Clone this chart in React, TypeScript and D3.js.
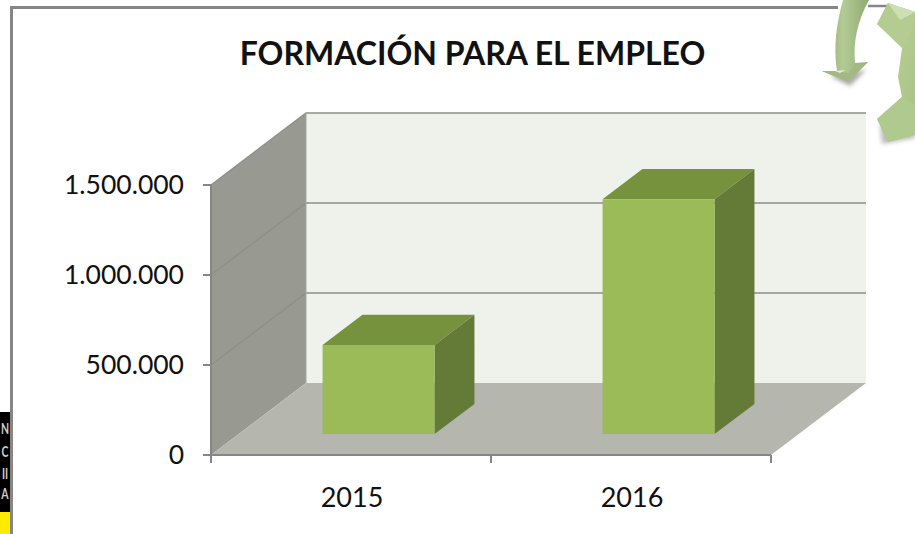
import * as d3 from 'd3'

const YEARS = ['2015', '2016']
const VALUES = [495000, 1305000]
const Y_TICKS = [0, 500000, 1000000, 1500000]
const TITLE = 'FORMACIÓN PARA EL EMPLEO'
const SIDE_LETTERS = ['N', 'C', 'II', 'A']
const SIDE_BASELINES = [434, 457, 479, 499]

const FONT = 'Lato, "Open Sans", sans-serif'

// depth of the 3D box
const DX = 95
const DY = -72
const BAR_NEAR = 0.29
const BAR_FAR = 0.71

const xScale = d3.scaleBand().domain(YEARS).range([211, 771]).paddingInner(0.6).paddingOuter(0.3)
const yScale = d3.scaleLinear().domain([0, 1500000]).range([455, 185])
const fmt = (v: number) => d3.format(',')(v).replace(/,/g, '.')

const poly = d3.line()
const p3 = (x: number, v: number, z: number): [number, number] => [x + DX * z, yScale(v) + DY * z]
const face = (pts: [number, number][]) => poly(pts) + 'Z'

function Bar({ year, value }: { year: string; value: number }) {
  const x0 = xScale(year)!
  const x1 = x0 + xScale.bandwidth()
  return (
    <g>
      <path d={face([p3(x0, value, BAR_NEAR), p3(x1, value, BAR_NEAR), p3(x1, value, BAR_FAR), p3(x0, value, BAR_FAR)])} fill="#76923c" />
      <path d={face([p3(x1, 0, BAR_NEAR), p3(x1, value, BAR_NEAR), p3(x1, value, BAR_FAR), p3(x1, 0, BAR_FAR)])} fill="#647a37" />
      <path d={face([p3(x0, 0, BAR_NEAR), p3(x1, 0, BAR_NEAR), p3(x1, value, BAR_NEAR), p3(x0, value, BAR_NEAR)])} fill="#9bbb59" />
    </g>
  )
}

export default function App() {
  const [xa, xb] = xScale.range()
  return (
    <svg width={915} height={534} style={{ position: 'absolute', left: 0, top: 0, background: '#fff' }}>
      <defs>
        <linearGradient id="arrowBody" x1="0" x2="1" y1="0" y2="0">
          <stop offset="0" stopColor="#8ba470" />
          <stop offset="0.45" stopColor="#b4cb94" />
          <stop offset="1" stopColor="#8fa974" />
        </linearGradient>
        <linearGradient id="gearBody" x1="0" x2="1" y1="0" y2="1">
          <stop offset="0" stopColor="#bcd298" />
          <stop offset="1" stopColor="#a8c385" />
        </linearGradient>
        <filter id="soft" x="-20%" y="-20%" width="140%" height="140%">
          <feGaussianBlur stdDeviation="2" />
        </filter>
      </defs>

      {/* left strip from the slide behind */}
      <rect x={0} y={412} width={10} height={100} fill="#000" />
      <rect x={0} y={512} width={10} height={22} fill="#ffec00" />
      {SIDE_LETTERS.map((l, i) => (
        <text
          key={i}
          transform={`translate(5,${SIDE_BASELINES[i]}) scale(0.7,1)`}
          fill="#ccc"
          fontFamily={FONT}
          fontWeight="700"
          fontSize={15}
          textAnchor="middle"
        >
          {l}
        </text>
      ))}

      {/* frame */}
      <path d="M11.5,534V7.5H838" fill="none" stroke="#868686" strokeWidth={3} />
      <path d="M868,6H890" fill="none" stroke="#868686" strokeWidth={2.5} />

      {/* decoration top right */}
      <path d="M830,76L850,86L866,70Z" fill="#aaa" filter="url(#soft)" />
      <path d="M882,144L915,138V130L880,125Z" fill="#bbb" filter="url(#soft)" />
      <path d="M843,0C837,22 833,45 837,71L822,71L848,82L868,62L855,63C853,40 858,20 869,0Z" fill="url(#arrowBody)" />
      <path d="M822,71L848,82L868,62L855,65L848,73L837,71Z" fill="#a3b882" />
      <path d="M835,71L845,70L840,73Z" fill="#e6efd6" />
      <path d="M888,3L915,12V135L888,142L877,119L902,97L898,77L902,48L877,24Z" fill="url(#gearBody)" />
      <path d="M888,3L915,12V22L903,48L877,24Z" fill="#b4cc92" />
      <path d="M902,97L877,119L888,142L915,135V105Z" fill="#b0c98e" />
      <path d="M888,3L915,12L900,20Z" fill="#cfdfb5" />

      <text x={472.5} y={65} textAnchor="middle" fontFamily={FONT} fontWeight="700" fontSize={32} fill="#111">
        {TITLE}
      </text>

      {/* walls and floor */}
      <path d={face([p3(xa, 0, 1), p3(xb, 0, 1), p3(xb, 1500000, 1), p3(xa, 1500000, 1)])} fill="#eff1eb" />
      <path d={face([p3(xa, 0, 0), p3(xa, 0, 1), p3(xa, 1500000, 1), p3(xa, 1500000, 0)])} fill="#989a92" />
      <path d={face([p3(xa, 0, 0), p3(xb, 0, 0), p3(xb, 0, 1), p3(xa, 0, 1)])} fill="#b5b7ae" />

      {/* gridlines */}
      {Y_TICKS.slice(1).map(t => (
        <path key={t} d={poly([p3(xa, t, 0), p3(xa, t, 1), p3(xb, t, 1)])!} fill="none" stroke="#8e8f8a" strokeWidth={1.5} />
      ))}
      <path d={poly([p3(xa, 1500000, 1), p3(xa, 0, 1)])!} fill="none" stroke="#a5a69f" strokeWidth={1} />

      {YEARS.map((y, i) => (
        <Bar key={y} year={y} value={VALUES[i]} />
      ))}

      {/* axes */}
      <path d={poly([[xa, yScale(1500000)], [xa, yScale(0)], [xb, yScale(0)]])!} fill="none" stroke="#868686" strokeWidth={2} />
      {Y_TICKS.map(t => (
        <g key={t}>
          <line x1={xa - 8} x2={xa} y1={yScale(t)} y2={yScale(t)} stroke="#868686" strokeWidth={2} />
          <text x={184} y={yScale(t) + 9} textAnchor="end" fontFamily={FONT} fontSize={26.5} fill="#111">
            {fmt(t)}
          </text>
        </g>
      ))}
      {[xa, (xa + xb) / 2, xb].map(x => (
        <line key={x} x1={x} x2={x} y1={yScale(0)} y2={yScale(0) + 8} stroke="#868686" strokeWidth={2} />
      ))}
      {YEARS.map(y => (
        <text key={y} x={xScale(y)! + xScale.bandwidth() / 2 + 1} y={507} textAnchor="middle" fontFamily={FONT} fontSize={27} fill="#111">
          {y}
        </text>
      ))}
    </svg>
  )
}
